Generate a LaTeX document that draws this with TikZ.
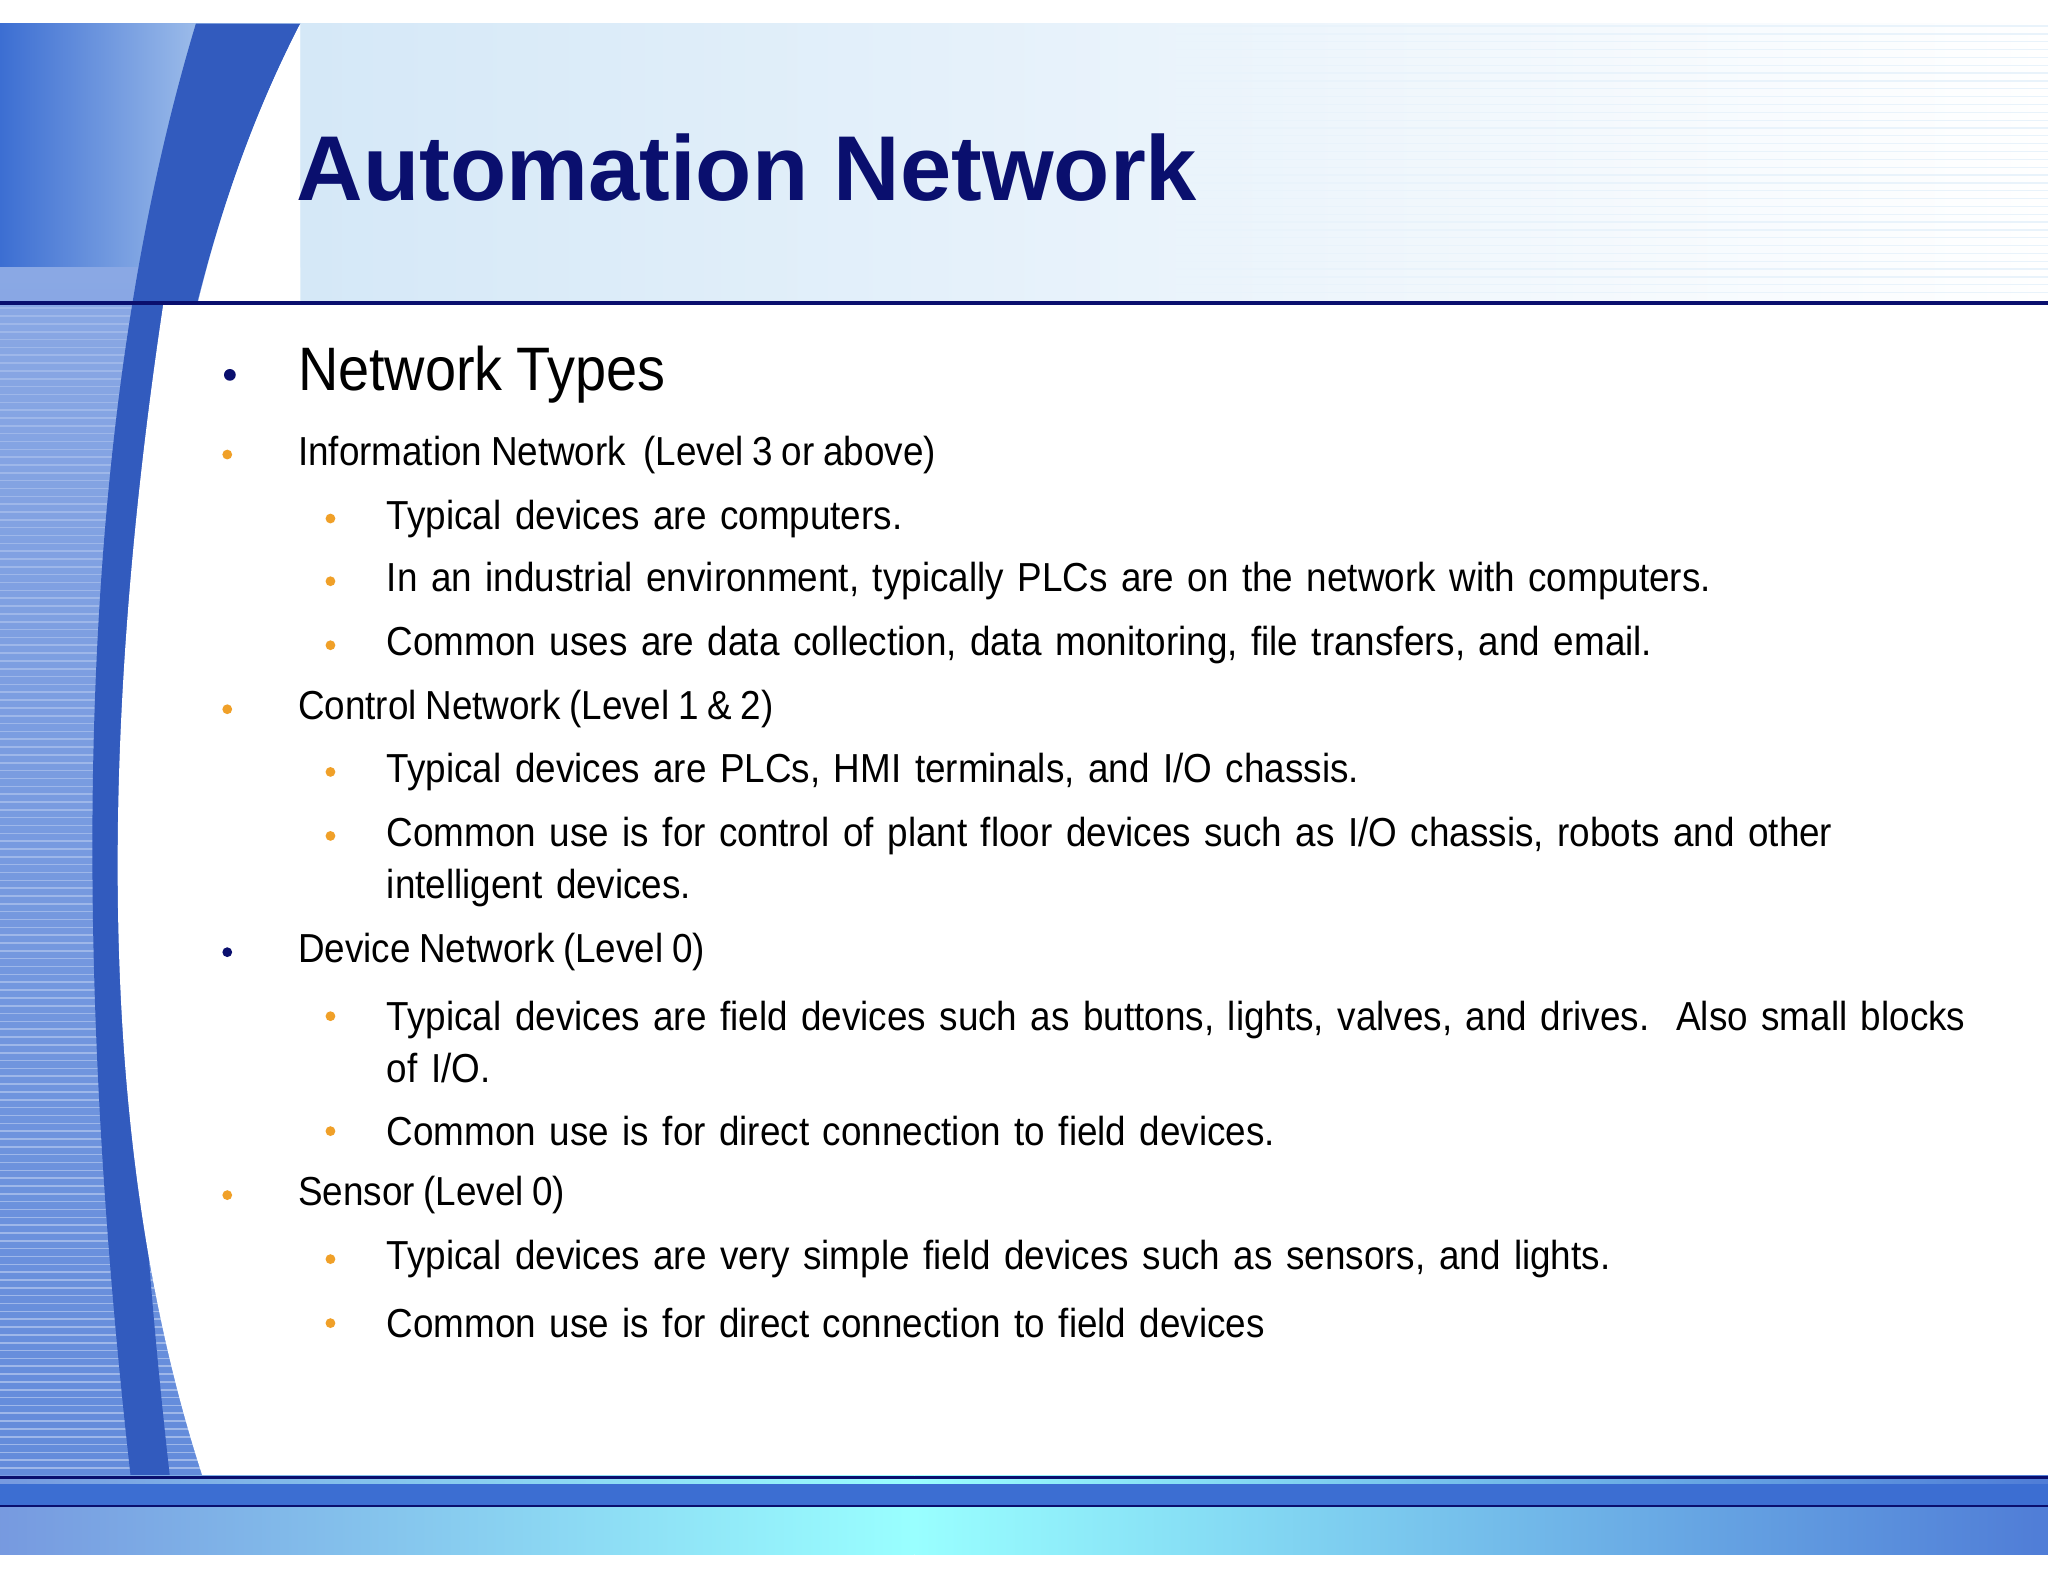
\documentclass[tikz,border=0pt]{standalone}
\usepackage{fontspec}
\setmainfont{Liberation Sans}
\newfontfamily\narrow[FakeStretch=0.91,WordSpace=0.85]{Liberation Sans}
\definecolor{navy}{RGB}{10,15,110}
\definecolor{orng}{RGB}{240,160,40}
\definecolor{midblue}{RGB}{60,110,210}
\definecolor{lightb}{RGB}{200,225,245}
\begin{document}
\begin{tikzpicture}[x=1pt,y=-1pt,
  lvone/.style={anchor=west,font=\narrow\fontsize{31}{38}\selectfont,inner sep=0pt},
  lvtwo/.style={anchor=west,font=\narrow\fontsize{31}{40}\selectfont,inner sep=0pt,align=left,text width=1212pt},
  bul/.style={circle,fill=orng,inner sep=0pt,minimum size=7.5pt},
  nbul/.style={circle,fill=navy,inner sep=0pt,minimum size=9pt}]
\useasboundingbox (0,0) rectangle (1568,1211);
\fill[white] (0,0) rectangle (1568,1211);
% header gradient
\shade[left color=lightb!90, right color=white] (0,18) rectangle (1568,230);
\foreach \y in {20,26,...,228} \draw[white!60!lightb,line width=1pt] (900,\y) -- (1568,\y);
\shade[left color=midblue, right color=lightb!90] (0,18) rectangle (230,205);
% left stripes
\shade[top color=midblue!60, bottom color=midblue!80] (0,205) rectangle (160,1130);
\foreach \y in {236,242,...,1128} \draw[white!50!midblue,line width=1.2pt] (0,\y) -- (160,\y);
% dark arc band
\fill[midblue!80!navy] (150,18) .. controls (80,250) and (40,600) .. (100,1130) -- (130,1130) .. controls (70,600) and (110,250) .. (230,18) -- cycle;
% white body
\fill[white] (230,18) .. controls (110,250) and (70,600) .. (155,1130) -- (1568,1130) -- (1568,233) -- (230,233) -- cycle;
\fill[white] (125,233) .. controls (70,600) and (80,900) .. (155,1130) -- (1568,1130) -- (1568,233) -- cycle;
\draw[navy,line width=2.5pt] (0,232) -- (1568,232);
% bottom band
\shade[left color=midblue!70, right color=cyan!40] (0,1130) rectangle (700,1190);
\shade[left color=cyan!40, right color=midblue!90] (700,1130) rectangle (1568,1190);
\fill[midblue] (0,1136) rectangle (1568,1152);
\draw[navy,line width=2pt] (0,1131) -- (1568,1131);
\draw[navy,line width=2pt] (0,1153) -- (1568,1153);
% title
\node[anchor=west,inner sep=0pt,text=navy,font=\bfseries\fontsize{70.5}{80}\selectfont] (title) at (227,128) {Automation Network};
% bullets
\node[nbul] (b0) at (176,287) {};
\node[anchor=west,inner sep=0pt,font=\narrow\fontsize{47}{52}\selectfont] (t0) at (228,287) {Network Types};
\node[bul] (b1) at (174,348) {};
\node[lvone] (t1) at (228,348) {Information Network\ \ (Level 3 or above)};
\node[bul] (b11) at (253,397) {}; \node[lvtwo] (t11) at (296,397) {Typical devices are computers.};
\node[bul] (b12) at (253,445) {}; \node[lvtwo] (t12) at (296,445) {In an industrial environment, typically PLCs are on the network with computers.};
\node[bul] (b13) at (253,494) {}; \node[lvtwo] (t13) at (296,494) {Common uses are data collection, data monitoring, file transfers, and email.};
\node[bul] (b2) at (174,543) {};
\node[lvone] (t2) at (228,543) {Control Network (Level 1 \& 2)};
\node[bul] (b21) at (253,591) {}; \node[lvtwo] (t21) at (296,591) {Typical devices are PLCs, HMI terminals, and I/O chassis.};
\node[bul] (b22) at (253,640) {}; \node[lvtwo] (t22) at (296,660) {Common use is for control of plant floor devices such as I/O chassis, robots and other\\intelligent devices.};
\node[nbul,minimum size=7.5pt] (b3) at (174,729) {};
\node[lvone] (t3) at (228,729) {Device Network (Level 0)};
\node[bul] (b31) at (253,778) {}; \node[lvtwo] (t31) at (296,798) {Typical devices are field devices such as buttons, lights, valves, and drives.\ \ Also small blocks\\of I/O.};
\node[bul] (b32) at (253,866) {}; \node[lvtwo] (t32) at (296,866) {Common use is for direct connection to field devices.};
\node[bul] (b4) at (174,915) {};
\node[lvone] (t4) at (228,915) {Sensor (Level 0)};
\node[bul] (b41) at (253,964) {}; \node[lvtwo] (t41) at (296,964) {Typical devices are very simple field devices such as sensors, and lights.};
\node[bul] (b42) at (253,1013) {}; \node[lvtwo] (t42) at (296,1013) {Common use is for direct connection to field devices};
\end{tikzpicture}
\end{document}
